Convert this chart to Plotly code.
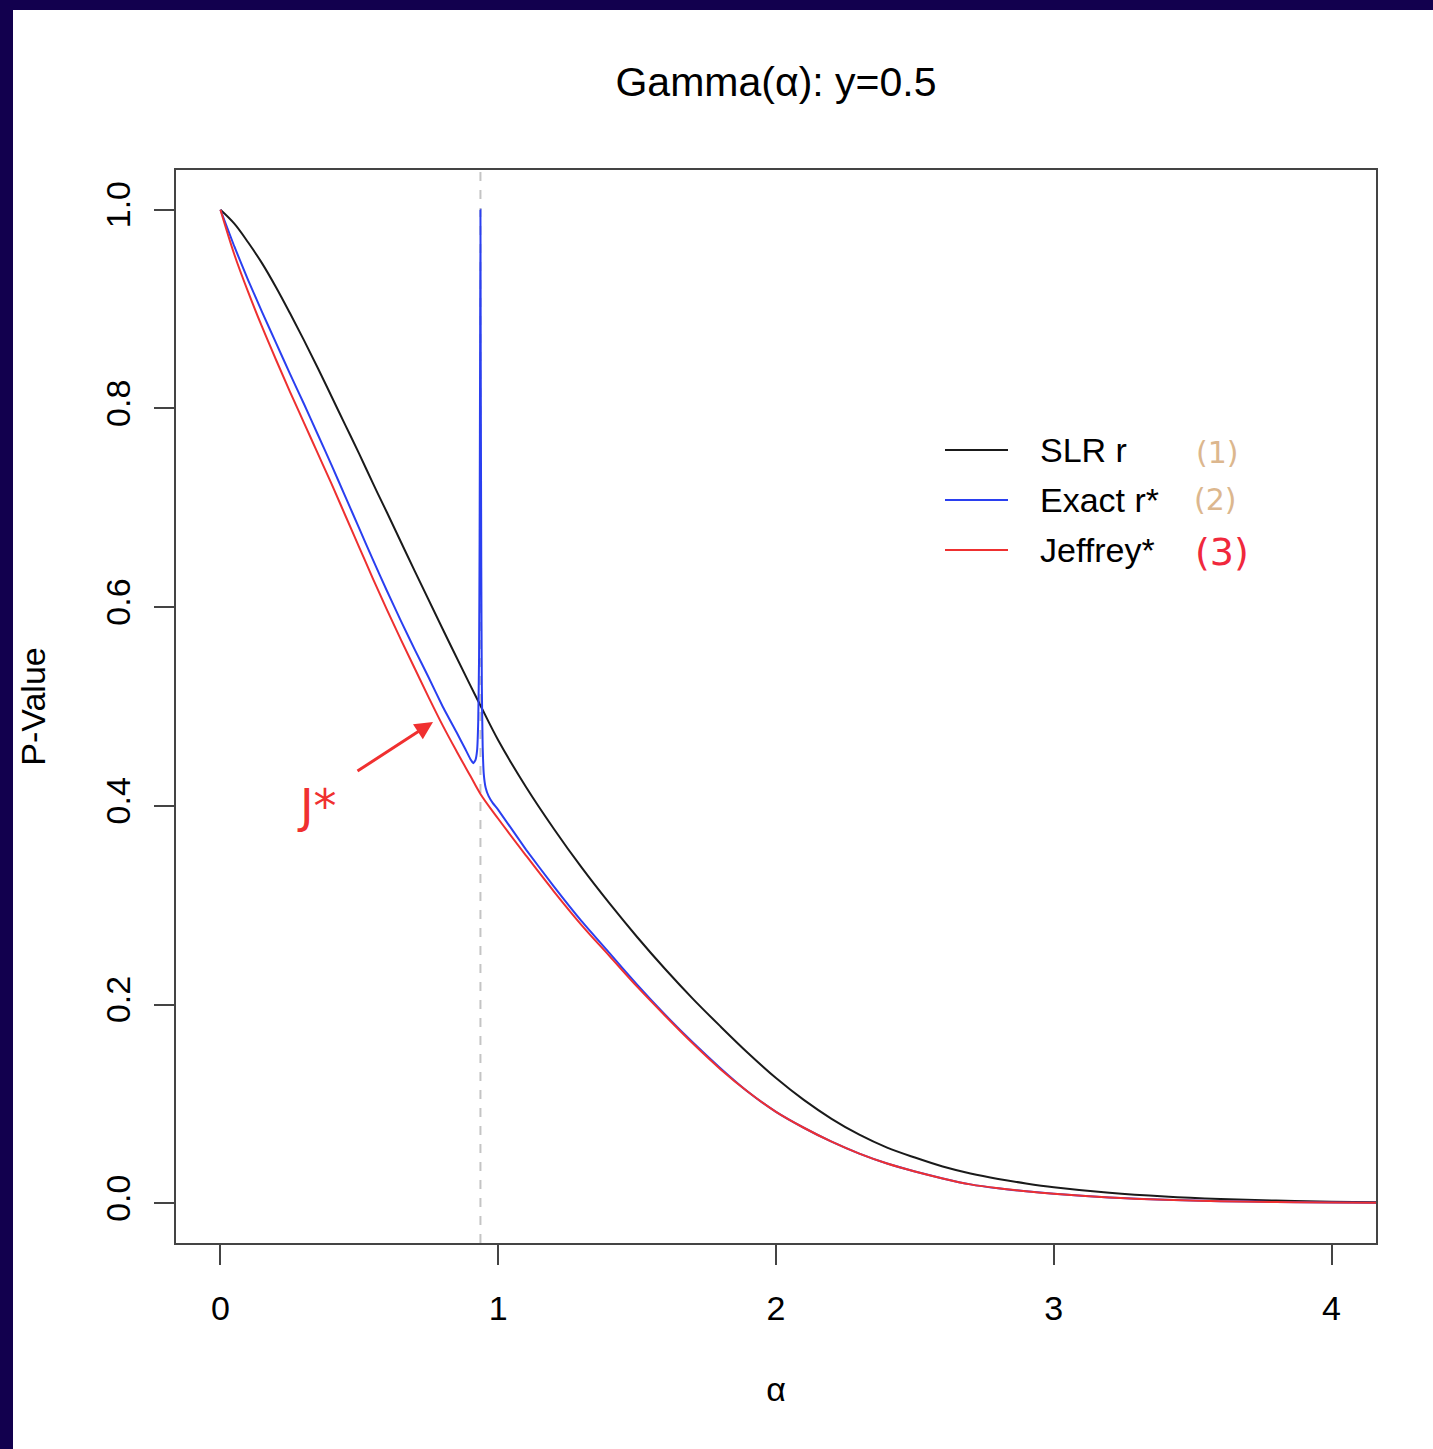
import plotly.graph_objects as go

# ---------------- data ----------------
alpha_slr = [0.00, 0.05, 0.10, 0.15, 0.20, 0.25, 0.30, 0.35, 0.40, 0.45, 0.50, 0.55, 0.60,
             0.70, 0.80, 0.90, 0.936, 1.00, 1.10, 1.20, 1.30, 1.40, 1.50, 1.60, 1.70, 1.80,
             1.90, 2.00, 2.10, 2.20, 2.30, 2.40, 2.50, 2.60, 2.70, 2.80, 2.90, 3.00, 3.20,
             3.40, 3.60, 3.80, 4.00, 4.16]
p_slr = [1.000, 0.986, 0.967, 0.946, 0.922, 0.896, 0.869, 0.841, 0.812, 0.783, 0.754, 0.724,
         0.695, 0.636, 0.578, 0.521, 0.501, 0.466, 0.419, 0.377, 0.338, 0.302, 0.268, 0.236,
         0.206, 0.178, 0.151, 0.126, 0.104, 0.085, 0.069, 0.056, 0.046, 0.037, 0.030, 0.0245,
         0.020, 0.0162, 0.0106, 0.0068, 0.0043, 0.0027, 0.0016, 0.0011]

alpha_exact = [0.00, 0.05, 0.10, 0.15, 0.20, 0.25, 0.30, 0.35, 0.40, 0.45, 0.50, 0.55,
               0.60, 0.65, 0.70, 0.75, 0.80, 0.85, 0.88, 0.90, 0.910, 0.918, 0.924, 0.928,
               0.931, 0.933, 0.935, 0.936, 0.937, 0.939, 0.941, 0.944, 0.948, 0.955,
               0.965, 0.98, 1.00, 1.10, 1.20, 1.30, 1.40, 1.50, 1.60, 1.70, 1.80, 1.90,
               2.00, 2.10, 2.20, 2.30, 2.40, 2.50, 2.60, 2.70, 2.80, 2.90, 3.00, 3.20,
               3.40, 3.60, 3.80, 4.00, 4.16]
p_exact = [1.000, 0.963, 0.929, 0.897, 0.866, 0.835, 0.805, 0.774, 0.743, 0.711, 0.679, 0.647,
           0.616, 0.586, 0.557, 0.529, 0.500, 0.474, 0.458, 0.447, 0.443, 0.446, 0.456, 0.485,
           0.550, 0.670, 0.880, 1.000, 0.850, 0.640, 0.520, 0.460, 0.432, 0.418,
           0.410, 0.403, 0.396, 0.356, 0.319, 0.284, 0.252, 0.220, 0.190, 0.162, 0.136, 0.112,
           0.092, 0.076, 0.062, 0.050, 0.040, 0.032, 0.025, 0.019, 0.015, 0.012, 0.0095, 0.0058,
           0.0035, 0.0021, 0.0013, 0.0008, 0.0005]

alpha_jeff = [0.00, 0.05, 0.10, 0.15, 0.20, 0.25, 0.30, 0.35, 0.40, 0.45, 0.50, 0.55,
              0.60, 0.65, 0.70, 0.75, 0.80, 0.85, 0.90, 0.936, 1.00, 1.10, 1.20, 1.30,
              1.40, 1.50, 1.60, 1.70, 1.80, 1.90, 2.00, 2.10, 2.20, 2.30, 2.40, 2.50, 2.60,
              2.70, 2.80, 2.90, 3.00, 3.20, 3.40, 3.60, 3.80, 4.00, 4.16]
p_jeff = [1.000, 0.955, 0.917, 0.882, 0.849, 0.817, 0.786, 0.755, 0.724, 0.692, 0.660, 0.628,
          0.597, 0.567, 0.538, 0.509, 0.481, 0.455, 0.430, 0.412, 0.387, 0.350, 0.314, 0.280,
          0.249, 0.218, 0.189, 0.161, 0.135, 0.112, 0.092, 0.076, 0.062, 0.050, 0.040, 0.032,
          0.025, 0.019, 0.015, 0.012, 0.0095, 0.0058, 0.0035, 0.0021, 0.0013, 0.0008, 0.0005]

mle_alpha = 0.936  # vertical dashed reference line

series_names = ["SLR r", "Exact r*", "Jeffrey*"]
series_colors = ["#1a1a1a", "#2a3ff0", "#ee3030"]
series_smoothing = [1.0, 0.4, 1.0]
x_ticks = [0, 1, 2, 3, 4]
y_ticks = [0.0, 0.2, 0.4, 0.6, 0.8, 1.0]
y_tick_text = ["0.0", "0.2", "0.4", "0.6", "0.8", "1.0"]
hand_labels = ["(1)", "(2)", "(3)"]
hand_colors = ["#dcb78e", "#dcb78e", "#f0283c"]

W, H = 1433, 1449
L, R, T, B = 176, 57, 170, 206
PW, PH = W - L - R, H - T - B
FONT = "Liberation Sans, Arial, Helvetica, sans-serif"
BASE = 34

fig = go.Figure()
for xs, ys, name, col, sm in zip([alpha_slr, alpha_exact, alpha_jeff],
                                 [p_slr, p_exact, p_jeff], series_names, series_colors,
                                 series_smoothing):
    fig.add_trace(go.Scatter(x=xs, y=ys, mode="lines", name=name, showlegend=False,
                             line=dict(color=col, width=2, shape="spline", smoothing=sm)))


def px_to_paper_x(px):
    return (px - L) / PW


def px_to_paper_y(py):
    return (H - B - py) / PH


shapes = [
    # vertical dashed line
    dict(type="line", xref="x", yref="paper", x0=mle_alpha, x1=mle_alpha, y0=0, y1=1,
         line=dict(color="#c4c4c4", width=2, dash="dash"), layer="below"),
    # navy frame (top and left edges of the slide)
    dict(type="rect", xref="paper", yref="paper",
         x0=px_to_paper_x(0), x1=px_to_paper_x(W), y0=px_to_paper_y(10), y1=px_to_paper_y(0),
         fillcolor="#12004e", line=dict(width=0)),
    dict(type="rect", xref="paper", yref="paper",
         x0=px_to_paper_x(0), x1=px_to_paper_x(13), y0=px_to_paper_y(H), y1=px_to_paper_y(0),
         fillcolor="#12004e", line=dict(width=0)),
]

annotations = []
# manual legend (line sample + label) in the style of the R legend
for i, (name, col) in enumerate(zip(series_names, series_colors)):
    yy = px_to_paper_y(450 + 50 * i)
    shapes.append(dict(type="line", xref="paper", yref="paper",
                       x0=px_to_paper_x(945), x1=px_to_paper_x(1008), y0=yy, y1=yy,
                       line=dict(color=col, width=2)))
    annotations.append(dict(xref="paper", yref="paper", x=px_to_paper_x(1038), y=yy,
                            xanchor="left", yanchor="middle", text=name, showarrow=False,
                            font=dict(size=BASE, color="black")))

hand_pos = [(1217, 452, 30), (1215, 500, 30), (1222, 552, 38)]
for lab, col, (hx, hy, hs) in zip(hand_labels, hand_colors, hand_pos):
    annotations.append(dict(xref="paper", yref="paper", x=px_to_paper_x(hx),
                            y=px_to_paper_y(hy), xanchor="center", yanchor="middle",
                            text=lab, showarrow=False,
                            font=dict(family="DejaVu Sans, sans-serif", size=hs, color=col)))
# handwritten J* with arrow
annotations.append(dict(xref="paper", yref="paper", x=px_to_paper_x(317), y=px_to_paper_y(806),
                        xanchor="center", yanchor="middle", text="J*", showarrow=False,
                        font=dict(family="DejaVu Sans, sans-serif", size=46, color="#f03030")))
annotations.append(dict(xref="paper", yref="paper", axref="pixel", ayref="pixel",
                        x=px_to_paper_x(433), y=px_to_paper_y(722), ax=-77, ay=50,
                        text="", showarrow=True, arrowhead=2, arrowsize=1.2, arrowwidth=3,
                        arrowcolor="#f03030"))

fig.update_layout(
    width=W, height=H,
    margin=dict(l=L, r=R, t=T, b=B),
    paper_bgcolor="white", plot_bgcolor="white",
    showlegend=False,
    font=dict(family=FONT, size=BASE, color="black"),
    title=dict(text="Gamma(α): y=0.5", x=(L + PW / 2) / W, xanchor="center",
               y=1 - 82 / H, yanchor="middle", font=dict(size=41)),
    xaxis=dict(range=[-0.16, 4.16], tickvals=x_ticks, ticks="outside", ticklen=20,
               tickwidth=2, tickcolor="#444", showgrid=False, zeroline=False,
               showline=True, linecolor="#444", linewidth=2, mirror=True,
               ticklabelstandoff=14,
               title=dict(text="α", standoff=51, font=dict(size=BASE))),
    yaxis=dict(range=[-0.04, 1.04], tickvals=y_ticks, ticktext=y_tick_text, ticks="outside",
               ticklen=20, tickwidth=2, tickcolor="#444", tickangle=-90, showgrid=False,
               zeroline=False, showline=True, linecolor="#444", linewidth=2, mirror=True,
               ticklabelstandoff=10,
               title=dict(text="P-Value", standoff=44, font=dict(size=BASE))),
    shapes=shapes,
    annotations=annotations,
)

fig.write_html("out.html")
